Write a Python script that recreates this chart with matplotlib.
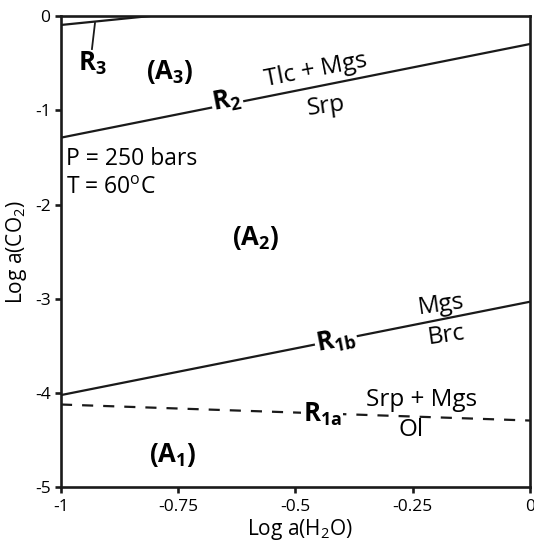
import matplotlib
matplotlib.use("Agg")
import matplotlib.pyplot as plt

plt.rcParams['font.family'] = ['Open Sans', 'DejaVu Sans']
plt.rcParams['mathtext.fontset'] = 'custom'
plt.rcParams['mathtext.rm'] = 'Open Sans'
plt.rcParams['mathtext.it'] = 'Open Sans:italic'
plt.rcParams['mathtext.bf'] = 'Open Sans:bold'
plt.rcParams['axes.unicode_minus'] = False

# Data: reaction boundaries (log aH2O, log aCO2 endpoints)
r3_x = [-1.0, -0.81]
r3_y = [-0.095, 0.0]
r2_x = [-1.0, 0.0]
r2_y = [-1.29, -0.297]
r1b_x = [-1.0, 0.0]
r1b_y = [-4.02, -3.03]
r1a_x = [-1.0, 0.0]
r1a_y = [-4.12, -4.29]

xticks = [-1, -0.75, -0.5, -0.25, 0]
xticklabels = ['-1', '-0.75', '-0.5', '-0.25', '0']
yticks = [0, -1, -2, -3, -4, -5]
yticklabels = ['0', '-1', '-2', '-3', '-4', '-5']

fig = plt.figure(figsize=(5.34, 5.41), dpi=100)
ax = fig.add_axes([0.1142, 0.0989, 0.8783, 0.8715])
ax.set_xlim(-1, 0)
ax.set_ylim(-5, 0)

lw = 1.6
col = '#1a1a1a'
ax.plot(r3_x, r3_y, color=col, lw=lw, solid_capstyle='butt')
ax.plot(r2_x, r2_y, color=col, lw=lw)
ax.plot(r1b_x, r1b_y, color=col, lw=lw)
ax.plot(r1a_x, r1a_y, color=col, lw=lw, dashes=(5, 4.5))

# R3 leader
ax.plot([-0.9275, -0.934], [-0.074, -0.35], color=col, lw=1.3)

for s in ax.spines.values():
    s.set_linewidth(1.9)
    s.set_color(col)

ax.set_xticks(xticks)
ax.set_xticklabels(xticklabels)
ax.set_yticks(yticks)
ax.set_yticklabels(yticklabels)
ax.tick_params(direction='out', length=4.5, width=1.9, labelsize=12.5, color=col)
ax.tick_params(axis='x', pad=4)
ax.tick_params(axis='y', pad=3)

ax.set_xlabel('Log a(H$_2$O)', fontsize=15, va='center')
ax.xaxis.set_label_coords(0.51, -0.09)
ax.set_ylabel('Log a(CO$_2$)', fontsize=15, va='center')
ax.yaxis.set_label_coords(-0.094, 0.5)

bb = dict(facecolor='white', edgecolor='none', pad=1)
fs_lab = 18.5
ax.text(-0.934, -0.50, r'$\mathbf{R_3}$', fontsize=fs_lab, ha='center', va='center')
ax.text(-0.646, -0.90, r'$\mathbf{R_2}$', fontsize=fs_lab, ha='center', va='center', rotation=11, bbox=bb)
ax.text(-0.414, -3.44, r'$\mathbf{R_{1b}}$', fontsize=fs_lab, ha='center', va='center', rotation=11, bbox=bb)
ax.text(-0.443, -4.22, r'$\mathbf{R_{1a}}$', fontsize=fs_lab, ha='center', va='center', rotation=0, bbox=bb)

ax.text(-0.768, -0.594, r'$\mathbf{(A_3)}$', fontsize=fs_lab, ha='center', va='center')
ax.text(-0.584, -2.354, r'$\mathbf{(A_2)}$', fontsize=fs_lab, ha='center', va='center')
ax.text(-0.761, -4.655, r'$\mathbf{(A_1)}$', fontsize=fs_lab, ha='center', va='center')

fs = 17.5
ax.text(-0.456, -0.573, 'Tlc + Mgs', fontsize=fs, ha='center', va='center', rotation=11)
ax.text(-0.435, -0.954, 'Srp', fontsize=fs, ha='center', va='center', rotation=8)
ax.text(-0.190, -3.065, 'Mgs', fontsize=fs, ha='center', va='center', rotation=8)
ax.text(-0.179, -3.383, 'Brc', fontsize=fs, ha='center', va='center', rotation=8)
ax.text(-0.232, -4.07, 'Srp + Mgs', fontsize=fs, ha='center', va='center')
ax.text(-0.254, -4.39, 'Ol', fontsize=fs, ha='center', va='center')

ax.text(-0.99, -1.52, 'P = 250 bars', fontsize=16.5, ha='left', va='center')
ax.text(-0.99, -1.82, 'T = 60$^{\\mathrm{o}}$C', fontsize=16.5, ha='left', va='center')

fig.savefig('out.png', dpi=100)
